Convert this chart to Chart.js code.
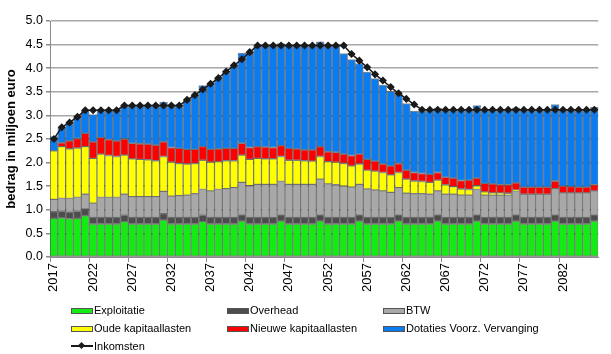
<!DOCTYPE html>
<html>
<head>
<meta charset="utf-8">
<script src="https://cdn.jsdelivr.net/npm/chart.js@4"></script>
<style>
  body { margin: 0; background: #fff; }
  #wrap { position: relative; width: 611px; height: 354px; }
  #chart { position: absolute; left: 0; top: 0; }
  .item { position: absolute; font: 11px "Liberation Sans", Arial, sans-serif; color: #000; white-space: nowrap; }
  .sw { position: absolute; left: 0; top: 5px; width: 20px; height: 4px; border: 1px solid #555; }
  .ln { position: absolute; left: 0; top: 6px; width: 22px; height: 2px; background: #1a1a1a; }
  .dm { position: absolute; left: 8px; top: 4px; width: 5px; height: 5px; background: #1a1a1a; transform: rotate(45deg); }
  .tx { position: absolute; top: 0; line-height: 14px; }
</style>
</head>
<body>
<div id="wrap">
  <canvas id="chart" width="611" height="354"></canvas>
</div>
<script>
// years on the x axis
const years = [];
for (let y = 2017; y <= 2086; y++) years.push(String(y));

// values in miljoen euro, one row of five years per line
const exploitatie = [
  0.82, 0.83, 0.81, 0.82, 0.87,
  0.70, 0.70, 0.70, 0.70, 0.75,
  0.70, 0.70, 0.70, 0.70, 0.78,
  0.70, 0.70, 0.70, 0.70, 0.75,
  0.70, 0.70, 0.70, 0.70, 0.76,
  0.70, 0.70, 0.70, 0.70, 0.76,
  0.70, 0.70, 0.70, 0.70, 0.76,
  0.70, 0.70, 0.70, 0.70, 0.76,
  0.70, 0.70, 0.70, 0.70, 0.76,
  0.70, 0.70, 0.70, 0.70, 0.76,
  0.70, 0.70, 0.70, 0.70, 0.76,
  0.70, 0.70, 0.70, 0.70, 0.76,
  0.70, 0.70, 0.70, 0.70, 0.76,
  0.70, 0.70, 0.70, 0.70, 0.76
];
const overhead = [
  0.14, 0.14, 0.14, 0.15, 0.15,
  0.14, 0.14, 0.14, 0.14, 0.14,
  0.14, 0.14, 0.14, 0.14, 0.14,
  0.14, 0.14, 0.14, 0.14, 0.14,
  0.14, 0.14, 0.14, 0.14, 0.14,
  0.14, 0.14, 0.14, 0.14, 0.14,
  0.14, 0.14, 0.14, 0.14, 0.14,
  0.14, 0.14, 0.14, 0.14, 0.14,
  0.14, 0.14, 0.14, 0.14, 0.14,
  0.14, 0.14, 0.14, 0.14, 0.14,
  0.14, 0.14, 0.14, 0.14, 0.14,
  0.14, 0.14, 0.14, 0.14, 0.14,
  0.14, 0.14, 0.14, 0.14, 0.14,
  0.14, 0.14, 0.14, 0.14, 0.14
];
const btw = [
  0.26, 0.27, 0.29, 0.29, 0.31,
  0.30, 0.42, 0.42, 0.42, 0.44,
  0.44, 0.44, 0.44, 0.44, 0.47,
  0.45, 0.46, 0.47, 0.50, 0.54,
  0.56, 0.59, 0.61, 0.63, 0.68,
  0.67, 0.70, 0.70, 0.70, 0.70,
  0.70, 0.70, 0.70, 0.70, 0.75,
  0.71, 0.69, 0.66, 0.64, 0.64,
  0.60, 0.58, 0.56, 0.53, 0.57,
  0.51, 0.50, 0.50, 0.49, 0.50,
  0.49, 0.49, 0.47, 0.47, 0.53,
  0.47, 0.47, 0.47, 0.47, 0.50,
  0.49, 0.49, 0.49, 0.49, 0.55,
  0.52, 0.52, 0.52, 0.52, 0.50
];
const oudeKapitaallasten = [
  1.03, 1.10, 1.05, 1.05, 1.01,
  0.95, 0.92, 0.89, 0.87, 0.83,
  0.80, 0.79, 0.78, 0.76, 0.74,
  0.72, 0.68, 0.66, 0.64, 0.62,
  0.61, 0.59, 0.59, 0.57, 0.58,
  0.56, 0.55, 0.54, 0.54, 0.53,
  0.51, 0.51, 0.50, 0.49, 0.48,
  0.47, 0.48, 0.48, 0.45, 0.43,
  0.40, 0.40, 0.39, 0.37, 0.32,
  0.30, 0.27, 0.26, 0.25, 0.23,
  0.20, 0.16, 0.13, 0.12, 0.08,
  0.07, 0.05, 0.05, 0.04, 0.02,
  0, 0, 0, 0, 0,
  0, 0, 0, 0, 0
];
const nieuweKapitaallasten = [
  0, 0.08, 0.17, 0.20, 0.28,
  0.35, 0.35, 0.34, 0.33, 0.34,
  0.33, 0.33, 0.33, 0.33, 0.31,
  0.31, 0.32, 0.31, 0.30, 0.29,
  0.27, 0.27, 0.26, 0.26, 0.25,
  0.25, 0.25, 0.25, 0.24, 0.23,
  0.25, 0.24, 0.23, 0.24, 0.21,
  0.21, 0.21, 0.20, 0.22, 0.21,
  0.23, 0.21, 0.18, 0.19, 0.19,
  0.19, 0.18, 0.17, 0.17, 0.16,
  0.16, 0.18, 0.18, 0.20, 0.16,
  0.18, 0.19, 0.17, 0.18, 0.15,
  0.15, 0.15, 0.15, 0.15, 0.16,
  0.14, 0.13, 0.12, 0.12, 0.13
];
const dotaties = [
  0.30, 0.32, 0.39, 0.46, 0.49,
  0.58, 0.58, 0.62, 0.65, 0.71,
  0.80, 0.81, 0.82, 0.84, 0.84,
  0.89, 0.91, 1.05, 1.15, 1.29,
  1.39, 1.50, 1.63, 1.76, 1.91,
  2.02, 2.14, 2.15, 2.16, 2.16,
  2.18, 2.19, 2.21, 2.21, 2.22,
  2.25, 2.26, 2.13, 2.03, 1.92,
  1.85, 1.75, 1.67, 1.58, 1.47,
  1.41, 1.30, 1.32, 1.37, 1.36,
  1.43, 1.45, 1.50, 1.49, 1.54,
  1.56, 1.57, 1.59, 1.59, 1.59,
  1.64, 1.64, 1.64, 1.64, 1.62,
  1.62, 1.63, 1.64, 1.64, 1.64
];
const inkomsten = [
  2.50, 2.75, 2.85, 2.97, 3.11,
  3.11, 3.11, 3.11, 3.11, 3.21,
  3.21, 3.21, 3.21, 3.21, 3.21,
  3.21, 3.21, 3.33, 3.43, 3.55,
  3.67, 3.79, 3.93, 4.06, 4.19,
  4.34, 4.48, 4.48, 4.48, 4.48,
  4.48, 4.48, 4.48, 4.48, 4.48,
  4.48, 4.48, 4.48, 4.30, 4.16,
  4.02, 3.87, 3.74, 3.60, 3.47,
  3.35, 3.23, 3.12, 3.12, 3.12,
  3.12, 3.12, 3.12, 3.12, 3.12,
  3.12, 3.12, 3.12, 3.12, 3.12,
  3.12, 3.12, 3.12, 3.12, 3.12,
  3.12, 3.12, 3.12, 3.12, 3.12
];

const yTicks = [0, 0.5, 1, 1.5, 2, 2.5, 3, 3.5, 4, 4.5, 5];
const fontFamily = '"Liberation Sans", Arial, sans-serif';

// helper for the stacked bar series
function barSet(label, data, color) {
    return {
        type: 'bar',
        label: label,
        data: data,
        backgroundColor: color,
        borderColor: 'rgba(45,45,45,0.55)',
        borderWidth: 1,
        borderSkipped: false,
        barPercentage: 1,
        categoryPercentage: 1,
        stack: 'kosten',
        order: 1
    };
}

const datasets = [
    barSet('Exploitatie', exploitatie, '#12EC12'),
    barSet('Overhead', overhead, '#4D4D4D'),
    barSet('BTW', btw, '#A8A8A8'),
    barSet('Oude kapitaallasten', oudeKapitaallasten, '#FFFF00'),
    barSet('Nieuwe kapitaallasten', nieuweKapitaallasten, '#FF0000'),
    barSet('Dotaties Voorz. Vervanging', dotaties, '#0A7CF0'),
    {
        type: 'line',
        label: 'Inkomsten',
        data: inkomsten,
        borderColor: '#1a1a1a',
        backgroundColor: '#1a1a1a',
        borderWidth: 1.5,
        pointStyle: 'rectRot',
        pointRadius: 3,
        pointHoverRadius: 3,
        tension: 0,
        stack: 'inkomsten',
        order: 0
    }
];

const ctx = document.getElementById('chart').getContext('2d');
const myChart = new Chart(ctx, {
    data: { labels: years, datasets: datasets },
    options: {
        responsive: false,
        animation: false,
        layout: { padding: { top: 21, right: 8, bottom: 57, left: 0 } },
        plugins: {
            legend: { display: false },
            tooltip: { enabled: false }
        },
        scales: {
            x: {
                stacked: true,
                offset: true,
                afterFit: function(scale) { scale.height = 40; },
                grid: {
                    offset: true,
                    drawOnChartArea: false,
                    drawTicks: true,
                    tickLength: 5,
                    color: function(c) { return c.index % 5 === 0 ? '#8a8a8a' : 'rgba(0,0,0,0)'; }
                },
                border: { display: true, color: '#8a8a8a', width: 1 },
                ticks: {
                    autoSkip: false,
                    maxRotation: 90,
                    minRotation: 90,
                    padding: 1,
                    color: '#000',
                    font: { family: fontFamily, size: 13 },
                    callback: function(value, index) {
                        return index % 5 === 0 ? this.getLabelForValue(value) : '';
                    }
                }
            },
            y: {
                stacked: true,
                min: 0,
                max: 5,
                afterFit: function(scale) { scale.width = 50; },
                afterBuildTicks: function(scale) {
                    scale.ticks = yTicks.map(v => ({ value: v }));
                },
                grid: {
                    color: '#a8a8a8',
                    lineWidth: 1.5,
                    tickLength: 4,
                    tickColor: '#8a8a8a'
                },
                border: { display: true, color: '#8a8a8a', width: 1 },
                ticks: {
                    padding: 3,
                    color: '#000',
                    font: { family: fontFamily, size: 12.5 },
                    callback: function(value) { return Number(value).toFixed(1); }
                },
                title: {
                    display: true,
                    text: 'bedrag in miljoen euro',
                    color: '#000',
                    padding: { top: 4, bottom: 0 },
                    font: { family: fontFamily, size: 13, weight: 'bold' }
                }
            }
        }
    }
});

// legend below the chart, three columns like the original
const legendCols = [71, 227, 383];
const legendRows = [303, 321, 339];
const wrap = document.getElementById('wrap');
datasets.forEach(function(ds, i) {
    const item = document.createElement('div');
    item.className = 'item';
    item.style.left = legendCols[i % 3] + 'px';
    item.style.top = legendRows[Math.floor(i / 3)] + 'px';
    if (ds.type === 'line') {
        item.innerHTML = '<span class="ln"></span><span class="dm"></span>';
    } else {
        item.innerHTML = '<span class="sw" style="background:' + ds.backgroundColor + '"></span>';
    }
    const text = document.createElement('span');
    text.className = 'tx';
    text.style.left = '23px';
    text.textContent = ds.label;
    item.appendChild(text);
    wrap.appendChild(item);
});
</script>
</body>
</html>
